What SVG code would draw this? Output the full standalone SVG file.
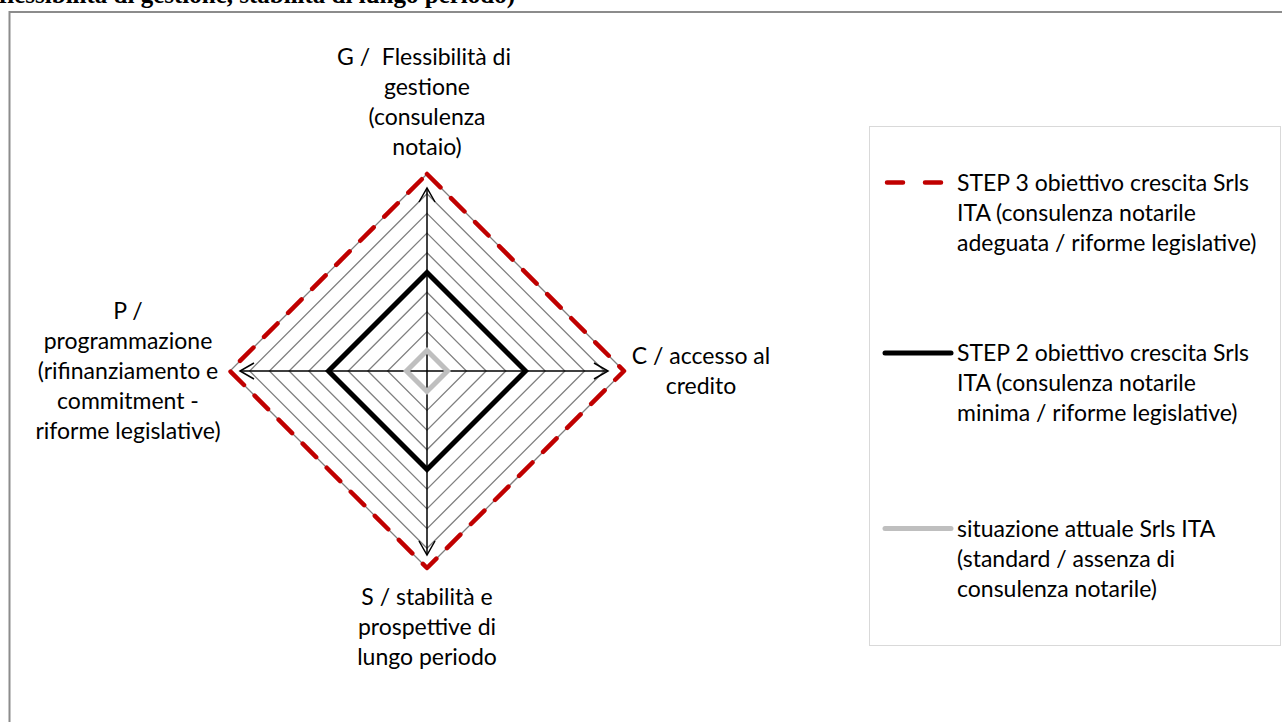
<svg xmlns="http://www.w3.org/2000/svg" width="1282" height="722" viewBox="0 0 1282 722">
<style>
.lbl{font-family:Lato,"Liberation Sans",sans-serif;font-size:23px;fill:#000}
.c{text-anchor:middle}
.grid{fill:none;stroke:#7f7f7f;stroke-width:1.3}
.axis{stroke:#000;stroke-width:1.5;fill:none;marker-end:url(#arr)}
.s3{fill:none;stroke:#c00000;stroke-width:4.5;stroke-dasharray:19 15;stroke-linecap:round;stroke-linejoin:round}
.s3l{fill:none;stroke:#c00000;stroke-width:4.5;stroke-dasharray:16 22;stroke-linecap:round}
.s2{fill:none;stroke:#000;stroke-width:5;stroke-linejoin:miter}
.s1{fill:none;stroke:#bfbfbf;stroke-width:5}
</style>
<defs>
<marker id="arr" markerUnits="userSpaceOnUse" markerWidth="20" markerHeight="20" viewBox="-16 -10 18 20" refX="0" refY="0" orient="auto">
<path d="M-14,-8 L0,0 L-14,8" fill="none" stroke="#000" stroke-width="1.5"/>
</marker>
</defs>
<rect width="1282" height="722" fill="#fff"/>
<text x="515" y="2.5" text-anchor="end" style="font-family:'Liberation Serif',serif;font-weight:bold;font-size:25px">flessibilità di gestione, stabilità di lungo periodo)</text>
<path d="M9.5,722 V12 H1282" fill="none" stroke="#8c8c8c" stroke-width="2"/>
<g id="grid">
<path class="grid" d="M427,351.3 L446.7,371 L427,390.7 L407.3,371Z"/>
<path class="grid" d="M427,331.6 L466.4,371 L427,410.4 L387.6,371Z"/>
<path class="grid" d="M427,311.9 L486.1,371 L427,430.1 L367.9,371Z"/>
<path class="grid" d="M427,292.2 L505.8,371 L427,449.8 L348.2,371Z"/>
<path class="grid" d="M427,272.5 L525.5,371 L427,469.5 L328.5,371Z"/>
<path class="grid" d="M427,252.8 L545.2,371 L427,489.2 L308.8,371Z"/>
<path class="grid" d="M427,233.1 L564.9,371 L427,508.9 L289.1,371Z"/>
<path class="grid" d="M427,213.4 L584.6,371 L427,528.6 L269.4,371Z"/>
<path class="grid" d="M427,193.7 L604.3,371 L427,548.3 L249.7,371Z"/>
<path class="grid" d="M427,174 L624,371 L427,568 L230,371Z"/>
</g>
<g id="axes">
<line class="axis" x1="427" y1="371" x2="427" y2="188"/>
<line class="axis" x1="427" y1="371" x2="608" y2="371"/>
<line class="axis" x1="427" y1="371" x2="427" y2="555"/>
<line class="axis" x1="427" y1="371" x2="240" y2="371"/>
</g>
<g id="series">
<path id="step1" class="s1" d="M427,350.5 L447.5,371 L427,391.5 L406.5,371Z"/>
<path id="step2" class="s2" d="M427,272.5 L525.5,371 L427,469.5 L328.5,371Z"/>
<path id="step3" class="s3" d="M427,174 L624,371 L427,568 L230,371Z"/>
</g>
<g id="label-G">
<text class="lbl c" x="424" y="65" xml:space="preserve" style="white-space:pre">G /  Flessibilità di</text>
<text class="lbl c" x="427" y="95">gestione</text>
<text class="lbl c" x="427" y="125">(consulenza</text>
<text class="lbl c" x="427" y="155">notaio)</text>
</g>
<g id="label-C">
<text class="lbl c" x="701" y="364">C / accesso al</text>
<text class="lbl c" x="701" y="394">credito</text>
</g>
<g id="label-S">
<text class="lbl c" x="427" y="605">S / stabilità e</text>
<text class="lbl c" x="427" y="635">prospettive di</text>
<text class="lbl c" x="427" y="665">lungo periodo</text>
</g>
<g id="label-P">
<text class="lbl c" x="128" y="319">P /</text>
<text class="lbl c" x="128" y="349">programmazione</text>
<text class="lbl c" x="128" y="379">(rifinanziamento e</text>
<text class="lbl c" x="128" y="409">commitment -</text>
<text class="lbl c" x="128" y="439">riforme legislative)</text>
</g>
<g id="legend">
<rect x="869.5" y="126.5" width="411" height="519" fill="#fff" stroke="#d9d9d9" stroke-width="1"/>
<line x1="887" y1="182.5" x2="943" y2="182.5" class="s3l"/>
<text class="lbl" x="957" y="191">STEP 3 obiettivo crescita Srls</text>
<text class="lbl" x="957" y="221">ITA (consulenza notarile</text>
<text class="lbl" x="957" y="251">adeguata / riforme legislative)</text>
<line x1="885" y1="353" x2="951" y2="353" stroke="#000" stroke-width="5" stroke-linecap="round"/>
<text class="lbl" x="957" y="361">STEP 2 obiettivo crescita Srls</text>
<text class="lbl" x="957" y="391">ITA (consulenza notarile</text>
<text class="lbl" x="957" y="421">minima / riforme legislative)</text>
<line x1="885" y1="528.5" x2="951" y2="528.5" stroke="#bfbfbf" stroke-width="5" stroke-linecap="round"/>
<text class="lbl" x="957" y="537">situazione attuale Srls ITA</text>
<text class="lbl" x="957" y="567">(standard / assenza di</text>
<text class="lbl" x="957" y="597">consulenza notarile)</text>
</g>
</svg>
